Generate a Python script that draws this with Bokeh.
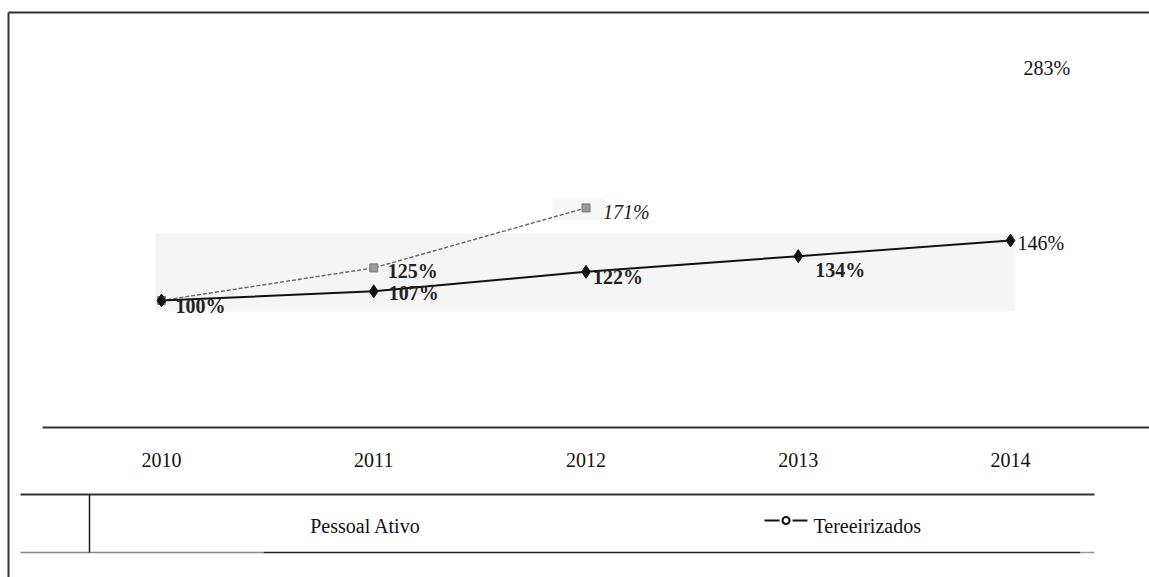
from bokeh.plotting import figure
from bokeh.models import Range1d
from bokeh.core.properties import value
from bokeh.embed import file_html
from bokeh.resources import INLINE

# ---------------- data ----------------
years = [2010, 2011, 2012, 2013, 2014]
tick_labels = ["2010", "2011", "2012", "2013", "2014"]
pessoal_ativo = [100, 107, 122, 134, 146]
terc_years = [2010, 2011, 2012]
terceirizados = [100, 125, 171]
terc_last_year = 2014
terc_last = 283
series_names = ["Pessoal Ativo", "Tereeirizados"]

# ---------------- geometry helpers (canvas pixel -> data) ----------------
W, H = 1149, 577
PX_PER_YEAR = 212.25
PX_PER_PCT = 1.3043


def dx(px):
    return 2010 + (px - 161) / PX_PER_YEAR


def dy(py):
    return 100 - (py - 300) / PX_PER_PCT


def ox(year, off):
    return year + off / PX_PER_YEAR


def oy(v, off):
    return v - off / PX_PER_PCT


p = figure(width=W, height=H, output_backend="svg", toolbar_location=None,
           x_range=Range1d(dx(0), dx(W)), y_range=Range1d(dy(H), dy(0)),
           x_axis_type=None, y_axis_type=None, min_border=0,
           min_border_left=0, min_border_right=0, min_border_top=0, min_border_bottom=0)
p.outline_line_color = None
p.background_fill_color = "white"
p.border_fill_color = "white"

# scan-like light background band
p.quad(left=[dx(155)], right=[dx(1015)], top=[dy(233)], bottom=[dy(311)],
       fill_color="#f5f5f5", line_color=None)
p.quad(left=[dx(552)], right=[dx(604)], top=[dy(198)], bottom=[dy(220)],
       fill_color="#f7f7f7", line_color=None)

# frame lines
p.segment(x0=[dx(8)], x1=[dx(W)], y0=[dy(12)], y1=[dy(12)], line_color="#333333", line_width=2)
p.segment(x0=[dx(8)], x1=[dx(8)], y0=[dy(12)], y1=[dy(H)], line_color="#333333", line_width=2)
# axis line
p.segment(x0=[dx(42)], x1=[dx(W)], y0=[dy(427)], y1=[dy(427)], line_color="#333333", line_width=2)
# table lines
p.segment(x0=[dx(20)], x1=[dx(1094)], y0=[dy(494)], y1=[dy(494)], line_color="#333333", line_width=2)
p.segment(x0=[dx(20)], x1=[dx(263)], y0=[dy(552)], y1=[dy(552)], line_color="#888888", line_width=1.5)
p.segment(x0=[dx(263)], x1=[dx(1080)], y0=[dy(552)], y1=[dy(552)], line_color="#222222", line_width=1.5)
p.segment(x0=[dx(1080)], x1=[dx(1094)], y0=[dy(552)], y1=[dy(552)], line_color="#999999", line_width=1.5)
p.segment(x0=[dx(89)], x1=[dx(89)], y0=[dy(494)], y1=[dy(552)], line_color="#222222", line_width=1.5)

# tick labels
p.text(x=years, y=[dy(459)] * len(years), text=tick_labels,
       text_font=value("Liberation Serif"), text_font_size="20px",
       text_align="center", text_baseline="middle", text_color="#111111")

# series: Tereeirizados (gray dashed with squares)
p.line(terc_years, terceirizados, line_color="#666666", line_width=1.4, line_dash="4 2")
p.scatter(terc_years, terceirizados, marker="square", size=8,
          fill_color="#9a9a9a", line_color="#777777", line_width=1)

# series: Pessoal Ativo (black with diamonds)
p.line(years, pessoal_ativo, line_color="#111111", line_width=2)
p.scatter(years, pessoal_ativo, marker="diamond", size=13,
          fill_color="#111111", line_color="#111111")

# data labels (pixel offsets from the point)
pa_off = [(14, 5), (15, 2), (7, 5), (17, 14)]
p.text(x=[ox(years[i], pa_off[i][0]) for i in range(4)],
       y=[oy(pessoal_ativo[i], pa_off[i][1]) for i in range(4)],
       text=[f"{v}%" for v in pessoal_ativo[:4]],
       text_font=value("Liberation Serif"), text_font_style="bold", text_font_size="20px",
       text_align="left", text_baseline="middle", text_color="#222222")
p.text(x=[ox(years[4], 7)], y=[oy(pessoal_ativo[4], 2)], text=[f"{pessoal_ativo[4]}%"],
       text_font=value("Liberation Serif"), text_font_size="20px",
       text_align="left", text_baseline="middle", text_color="#111111")

p.text(x=[ox(terc_years[1], 14)], y=[oy(terceirizados[1], 3)], text=[f"{terceirizados[1]}%"],
       text_font=value("Liberation Serif"), text_font_style="bold", text_font_size="20px",
       text_align="left", text_baseline="middle", text_color="#222222")
p.text(x=[ox(terc_years[2], 17)], y=[oy(terceirizados[2], 4)], text=[f"{terceirizados[2]}%"],
       text_font=value("Liberation Serif"), text_font_style="italic", text_font_size="20px",
       text_align="left", text_baseline="middle", text_color="#222222")
p.text(x=[ox(terc_last_year, 13)], y=[oy(terc_last, 6)], text=[f"{terc_last}%"],
       text_font=value("Liberation Serif"), text_font_size="20px",
       text_align="left", text_baseline="middle", text_color="#111111")

# legend row
p.text(x=[dx(365)], y=[dy(525)], text=[series_names[0]],
       text_font=value("Liberation Serif"), text_font_size="20px",
       text_align="center", text_baseline="middle", text_color="#111111")
p.segment(x0=[dx(764), dx(792)], x1=[dx(779), dx(807)], y0=[dy(520)] * 2, y1=[dy(520)] * 2,
          line_color="#111111", line_width=2)
p.scatter(x=[dx(785.5)], y=[dy(520)], marker="circle", size=7,
          fill_color="white", line_color="#111111", line_width=2.2)
p.text(x=[dx(813)], y=[dy(525)], text=[series_names[1]],
       text_font=value("Liberation Serif"), text_font_size="20px",
       text_align="left", text_baseline="middle", text_color="#111111")

open("out.html", "w").write(file_html(p, INLINE))
